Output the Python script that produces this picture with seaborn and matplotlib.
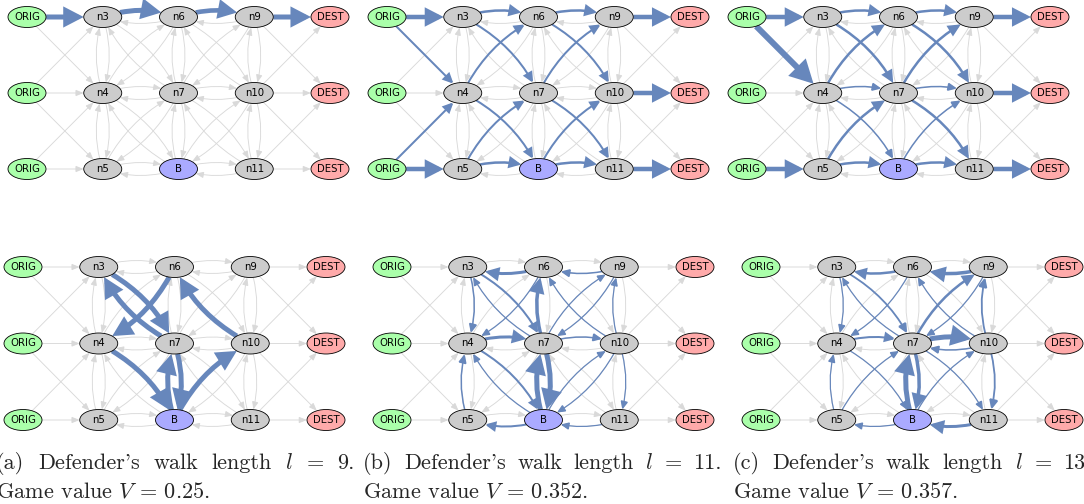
import matplotlib
matplotlib.use("Agg")
import numpy as np
import matplotlib.pyplot as plt
from matplotlib.patches import Ellipse, FancyArrowPatch, ArrowStyle
import seaborn as sns

# ---------------- data ----------------
# node grid: columns left->right, rows top->bottom
NODE_IDS = [["o0", "o1", "o2"], ["n3", "n4", "n5"], ["n6", "n7", "B"],
            ["n9", "n10", "n11"], ["d0", "d1", "d2"]]
NODE_LABELS = [["ORIG", "ORIG", "ORIG"], ["n3", "n4", "n5"], ["n6", "n7", "B"],
               ["n9", "n10", "n11"], ["DEST", "DEST", "DEST"]]

# attacker flows (top row) : (source, target, flow weight)
FLOW_A9 = [("o0", "n3", 5), ("n3", "n6", 5), ("n6", "n9", 4.6), ("n9", "d0", 5)]
FLOW_A11 = [("o0", "n3", 4.5), ("o0", "n4", 2), ("o2", "n4", 2), ("o2", "n5", 4.5),
            ("n3", "n6", 2.5), ("n3", "n7", 2), ("n4", "n6", 2), ("n4", "B", 2),
            ("n5", "n7", 2), ("n5", "B", 2.5), ("n6", "n9", 2.5), ("n6", "n10", 2),
            ("n7", "n9", 2), ("n7", "n11", 2), ("B", "n10", 2), ("B", "n11", 2.5),
            ("n9", "d0", 4.5), ("n10", "d1", 4.5), ("n11", "d2", 4.5)]
FLOW_A13 = [("o0", "n3", 4.5), ("o0", "n4", 6), ("o2", "n5", 4.5),
            ("n3", "n6", 2.5), ("n3", "n7", 2.5), ("n4", "n6", 2.5), ("n4", "n7", 1.5),
            ("n4", "B", 1.5), ("n5", "n7", 2.5), ("n5", "B", 2.5), ("n6", "n9", 2.5),
            ("n6", "n10", 2.5), ("n7", "n9", 2.5), ("n7", "n10", 1.5), ("n7", "n11", 2.5),
            ("B", "n10", 1.5), ("B", "n11", 2.5),
            ("n9", "d0", 4.5), ("n10", "d1", 4.5), ("n11", "d2", 4.5)]
# defender walks (bottom row)
FLOW_D9 = [("n3", "n7", 5), ("n7", "n3", 5), ("n6", "n4", 5), ("n10", "n6", 5),
           ("n4", "B", 5), ("B", "n7", 5), ("n7", "B", 5), ("B", "n10", 5)]
FLOW_D11 = [("n6", "n3", 3), ("n3", "n4", 1.5), ("n5", "n4", 1.5), ("n3", "n7", 2),
            ("n7", "n3", 1.2), ("n6", "n4", 1.2), ("n4", "n7", 3), ("n4", "B", 2),
            ("B", "n4", 1.2), ("B", "n5", 2), ("n7", "n6", 3.5), ("B", "n7", 5),
            ("n7", "B", 5), ("n7", "n10", 1.5), ("n9", "n6", 1.5), ("n10", "n6", 1.2),
            ("n7", "n9", 1.2), ("n9", "n7", 1.2), ("n10", "n9", 1.2), ("n10", "n11", 1.2),
            ("B", "n10", 1.2), ("n10", "B", 1.2), ("n11", "B", 1.2)]
FLOW_D13 = [("n6", "n3", 2.5), ("n3", "n4", 1.2), ("n5", "n4", 1.2), ("n3", "n7", 1.8),
            ("n7", "n3", 1.2), ("n6", "n4", 1.2), ("n4", "n7", 2), ("n4", "B", 1.2),
            ("n5", "n7", 1.2), ("B", "n5", 1.2), ("B", "n7", 5), ("n7", "B", 3.5),
            ("n9", "n6", 3.5), ("n7", "n9", 2.5), ("n9", "n7", 1.2), ("n7", "n10", 5),
            ("n10", "n7", 1.5), ("n10", "n6", 1.2), ("n7", "n11", 1.2), ("B", "n10", 1.2),
            ("n10", "n9", 1.8), ("n10", "n11", 1.8), ("n11", "B", 3)]

WALK_LENGTHS = ["9", "11", "13"]
GAME_VALUES = ["0.25", "0.352", "0.357"]

# ---------------- style ----------------
sns.set_theme(style="white")
plt.rcParams["font.family"] = ["DejaVu Sans"]
plt.rcParams["mathtext.fontset"] = "cm"

deep_blue = np.array(sns.color_palette("deep")[0])
BLUE = tuple(deep_blue * 0.85 + 0.15)
GRAY_EDGE = "#d9d9d9"
NODE_FILL = {"orig": "#aaffaa", "dest": "#ffaaaa", "inner": "#cccccc", "B": "#aaaaff"}

FIG_W, FIG_H, DPI = 1084, 504, 100
PX_PER_PT = DPI / 72.0
RAD = -0.17
NODE_W_PX, NODE_H_PX = 38, 21

fig = plt.figure(figsize=(FIG_W / DPI, FIG_H / DPI), dpi=DPI)
fig.patch.set_facecolor("white")

# build base graph
pos = {}
for c, col in enumerate(NODE_IDS):
    for r, nid in enumerate(col):
        pos[nid] = (c, r)

base_edges = []  # (src, dst, curved)
for r in range(3):
    for dr in (-1, 0, 1):
        if 0 <= r + dr < 3:
            base_edges.append((NODE_IDS[0][r], NODE_IDS[1][r + dr], False))
            base_edges.append((NODE_IDS[3][r], NODE_IDS[4][r + dr], False))
inner = [(c, r) for c in (1, 2, 3) for r in range(3)]
for (c1, r1) in inner:
    for (c2, r2) in inner:
        if max(abs(c1 - c2), abs(r1 - r2)) == 1:
            base_edges.append((NODE_IDS[c1][r1], NODE_IDS[c2][r2], True))
curved_pairs = {(s, d) for s, d, cv in base_edges if cv}


def add_panel(x0, y0, sx, sy):
    left = (x0 - 0.5 * sx) / FIG_W
    width = 5 * sx / FIG_W
    top = (y0 - 0.5 * sy) / FIG_H
    height = 3 * sy / FIG_H
    ax = fig.add_axes([left, 1 - top - height, width, height])
    ax.set_xlim(-0.5, 4.5)
    ax.set_ylim(2.5, -0.5)
    ax.axis("off")
    ax.patch.set_alpha(0)
    return ax


def draw_arrow(ax, ells, s, d, color, w_px, hl_px, hw_px, z):
    rad = RAD if (s, d) in curved_pairs else 0.0
    style = ArrowStyle("-|>", head_length=hl_px / PX_PER_PT, head_width=hw_px / PX_PER_PT)
    arr = FancyArrowPatch(pos[s], pos[d], arrowstyle=style, mutation_scale=1,
                          connectionstyle=f"arc3,rad={rad}", patchA=ells[s], patchB=ells[d],
                          shrinkA=0.3, shrinkB=0.3, lw=w_px / PX_PER_PT, color=color,
                          zorder=z, joinstyle="miter", capstyle="butt")
    ax.add_patch(arr)


def draw_panel(ax, flows, sx, sy):
    ells = {}
    for c, col in enumerate(NODE_IDS):
        for r, nid in enumerate(col):
            kind = "orig" if c == 0 else "dest" if c == 4 else ("B" if nid == "B" else "inner")
            e = Ellipse((c, r), NODE_W_PX / sx, NODE_H_PX / sy, facecolor=NODE_FILL[kind],
                        edgecolor="black", lw=0.6, zorder=5)
            ax.add_patch(e)
            ells[nid] = e
            ax.text(c, r, NODE_LABELS[c][r], ha="center", va="center", fontsize=7.3,
                    color="black", zorder=6)
    for s, d, _ in base_edges:
        draw_arrow(ax, ells, s, d, GRAY_EDGE, 0.9, 6.5, 2.6, 1)
    for s, d, w in flows:
        draw_arrow(ax, ells, s, d, BLUE, w, 1.5 * w + 5, 0.9 * w + 2, 2)


panels = [((27, 17, 75.75, 76), FLOW_A9), ((387, 17, 75.75, 76), FLOW_A11),
          ((747, 17, 75.75, 76), FLOW_A13), ((23, 267, 75.75, 76.5), FLOW_D9),
          ((392, 267, 75.75, 76.5), FLOW_D11), ((761, 267, 75.75, 76.5), FLOW_D13)]
for (x0, y0, sx, sy), flows in panels:
    ax = add_panel(x0, y0, sx, sy)
    draw_panel(ax, flows, sx, sy)

# ---------------- captions ----------------
renderer = fig.canvas.get_renderer()
CAP_FS = 16
CAP_X = [-4, 363, 733]
LINE1_Y, LINE2_Y = 469, 497
LINE1_W = 359


def justified(x_px, y_px, words, target_w):
    texts = [fig.text(0, 0, w, fontsize=CAP_FS, family="cmr10", ha="left", va="baseline")
             for w in words]
    widths = [t.get_window_extent(renderer).width for t in texts]
    gap = (target_w - sum(widths)) / (len(words) - 1)
    x = x_px
    for t, w in zip(texts, widths):
        t.set_position((x / FIG_W, 1 - y_px / FIG_H))
        x += w + gap


for i, (lval, vval) in enumerate(zip(WALK_LENGTHS, GAME_VALUES)):
    label = "(" + "abc"[i] + ")"
    justified(CAP_X[i], LINE1_Y,
              [label, "Defender's", "walk", "length", "$l$", "=", lval + "."], LINE1_W)
    fig.text(CAP_X[i] / FIG_W, 1 - LINE2_Y / FIG_H, "Game value $V$ = " + vval + ".",
             fontsize=CAP_FS, family="cmr10", ha="left", va="baseline")

fig.savefig("out.png", dpi=DPI, facecolor="white")
